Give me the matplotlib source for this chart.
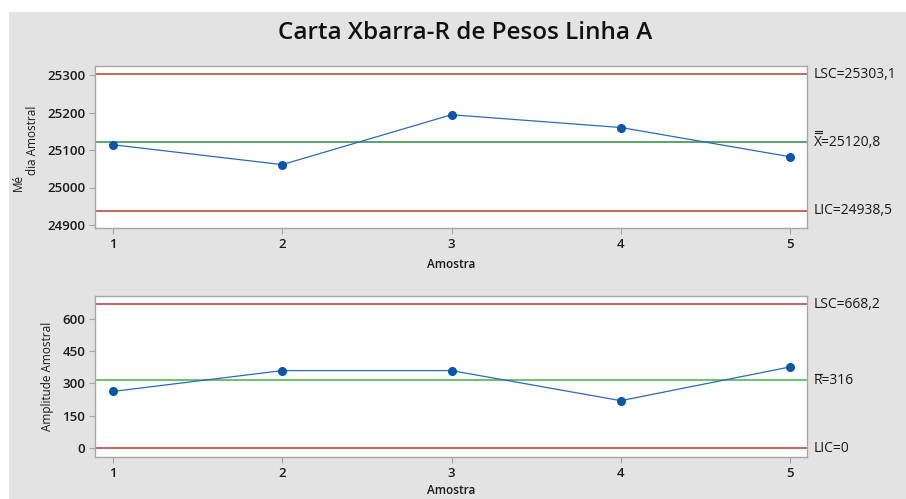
import matplotlib.pyplot as plt
from matplotlib.patches import Rectangle
from matplotlib.lines import Line2D

plt.rcParams['font.family'] = ['Open Sans', 'DejaVu Sans']

amostras = [1, 2, 3, 4, 5]
medias = [25114, 25061, 25194, 25160, 25082]
amplitudes = [263, 360, 360, 220, 377]

xbar_lsc, xbar_lc, xbar_lic = 25303.1, 25120.8, 24938.5
r_lsc, r_lc, r_lic = 668.2, 316, 0

xbar_ticks = [24900, 25000, 25100, 25200, 25300]
r_ticks = [0, 150, 300, 450, 600]

W, H = 906, 499
fig = plt.figure(figsize=(W / 100, H / 100), dpi=100)
fig.patch.set_facecolor('white')
fig.add_artist(Rectangle((9 / W, 0), 1, (H - 12) / H, transform=fig.transFigure,
                         facecolor='#e3e3e3', edgecolor='none', zorder=-10))

red = '#c0392b'
blue_line = '#2a6ab8'
blue_pt = '#0a56a8'
spine = '#a6a6a6'
txt = '#1a1a1a'


def px(x, y):
    return x / W, 1 - y / H


def bar(x0, x1, y):
    # traço horizontal em pixels da figura (barra sobre X e R)
    fig.add_artist(Line2D([x0 / W, x1 / W], [1 - y / H, 1 - y / H],
                          transform=fig.transFigure, color=txt, lw=0.8))


def style(ax, ticks, ylim):
    ax.set_xlim(0.894, 5.1)
    ax.set_ylim(*ylim)
    ax.set_xticks(amostras)
    ax.set_yticks(ticks)
    for s in ax.spines.values():
        s.set_color(spine)
        s.set_linewidth(1.0)
    ax.tick_params(direction='out', length=4, width=0.8, color=spine,
                   labelsize=9.5, labelcolor=txt, pad=3)
    for lab in ax.get_xticklabels() + ax.get_yticklabels():
        lab.set_fontweight('semibold')


# Carta Xbarra
ax1 = fig.add_axes([95 / W, 1 - 228 / H, 712 / W, 162 / H])
ax1.axhline(xbar_lsc, color=red, lw=1.1)
ax1.axhline(xbar_lic, color=red, lw=1.1)
ax1.axhline(xbar_lc, color='#2e8b45', lw=1.1)
ax1.plot(amostras, medias, color=blue_line, lw=0.9, marker='o', ms=5.5,
         mfc=blue_pt, mec=blue_pt)
style(ax1, xbar_ticks, (24892, 25324))
ax1.set_xlabel('Amostra', fontsize=8.5, fontweight='semibold', color=txt, labelpad=5)

# Carta R
ax2 = fig.add_axes([95 / W, 1 - 457 / H, 712 / W, 161 / H])
ax2.axhline(r_lsc, color=red, lw=1.1)
ax2.axhline(r_lic, color=red, lw=1.1)
ax2.axhline(r_lc, color='#45b04a', lw=1.1)
ax2.plot(amostras, amplitudes, color=blue_line, lw=0.9, marker='o', ms=5.5,
         mfc=blue_pt, mec=blue_pt)
style(ax2, r_ticks, (-42, 707))
ax2.set_xlabel('Amostra', fontsize=8.5, fontweight='semibold', color=txt, labelpad=3)

fig.text(*px(465, 33), 'Carta Xbarra-R de Pesos Linha A', fontsize=17.5,
         fontweight='semibold', color='#111111', ha='center', va='center')

# rótulos dos eixos y
fig.text(*px(18, 182), 'Mé', rotation=90, fontsize=8.5, color=txt,
         ha='center', va='center')
fig.text(*px(32, 140), 'dia Amostral', rotation=90, fontsize=8.5, color=txt,
         ha='center', va='center')
fig.text(*px(47, 376), 'Amplitude Amostral', rotation=90, fontsize=8.5, color=txt,
         ha='center', va='center')

# limites à direita
tx = 814 / W
lab_kw = dict(fontsize=10, color=txt, ha='left', va='center')
fig.text(tx, px(0, 75)[1], f'LSC={xbar_lsc:.1f}'.replace('.', ','), **lab_kw)
fig.text(tx, px(0, 143)[1], f'X={xbar_lc:.1f}'.replace('.', ','), **lab_kw)
bar(815, 822, 130.5)
bar(815, 822, 133)
fig.text(tx, px(0, 211)[1], f'LIC={xbar_lic:.1f}'.replace('.', ','), **lab_kw)

fig.text(tx, px(0, 304)[1], f'LSC={r_lsc:.1f}'.replace('.', ','), **lab_kw)
fig.text(tx, px(0, 381)[1], f'R={r_lc:g}', **lab_kw)
bar(815, 822, 374)
fig.text(tx, px(0, 449)[1], f'LIC={r_lic:g}', **lab_kw)

fig.savefig('out.png', dpi=100)
